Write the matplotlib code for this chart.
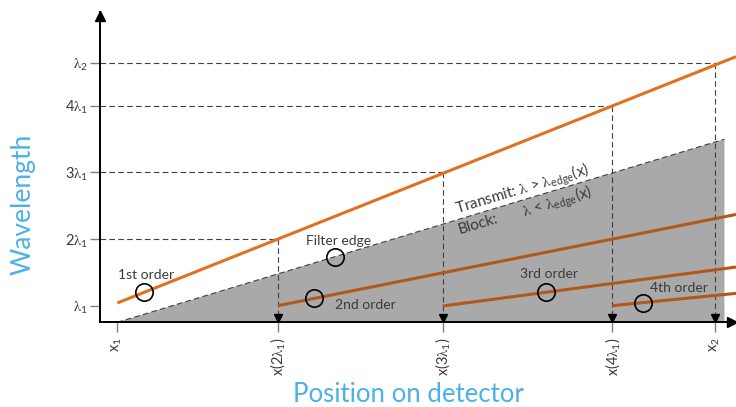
import matplotlib
matplotlib.use('Agg')
import matplotlib.pyplot as plt
import matplotlib.transforms as mtransforms
import numpy as np

plt.rcParams['font.family'] = ['Lato', 'DejaVu Sans']
plt.rcParams['mathtext.fontset'] = 'custom'
plt.rcParams['mathtext.rm'] = 'Lato'
plt.rcParams['mathtext.sf'] = 'Lato'
plt.rcParams['mathtext.it'] = 'STIXGeneral'
plt.rcParams['mathtext.fallback'] = 'stix'

LAM = r'$\mathit{\lambda}$'


def lam(sub):
    return r'$\mathit{\lambda}_{\mathrm{%s}}$' % sub


# Wavelength in units of lambda_1; detector position expressed as the first-order wavelength
y_ticks = [1.0, 2.0, 3.0, 4.0, 4.64]
y_labels = [lam('1'), '2' + lam('1'), '3' + lam('1'), '4' + lam('1'), lam('2')]
x_ticks = [1.04, 2.0, 2.985, 4.0, 4.615]
x_labels = [r'x$_{\mathrm{1}}$', 'x(2' + lam('1') + ')', 'x(3' + lam('1') + ')',
            'x(4' + lam('1') + ')', r'x$_{\mathrm{2}}$']

# Diffraction orders: wavelength at position x is x / n
orders = [1, 2, 3, 4]
order_start = [1.04, 2.0, 2.985, 4.0]
order_labels = ['1st order', '2nd order', '3rd order', '4th order']
order_circle_x = [1.20, 2.217, 3.605, 4.185]
order_label_xy = [(1.21, 1.46), (2.52, 1.01), (3.62, 1.47), (4.40, 1.27)]

# Order-sorting filter edge
edge_x = [1.04, 4.67]
edge_y = [0.75, 3.50]
edge_circle_x = 2.343
edge_label_xy = (2.36, 1.97)

# Corners of the dashed guides (wavelength level -> detector position)
guide_x = [2.0, 2.985, 4.0, 4.615]
guide_y = [2.0, 3.0, 4.0, 4.64]

x_min, x_max = 0.938, 4.739
y_min, y_max = 0.75, 5.41

c_first = '#E2711F'
c_higher = '#B3571B'
c_text = '#3a3a3a'
c_dash = '#404040'
c_label = '#4CB1E8'
dash = (0, (5, 3))

fig = plt.figure(figsize=(7.36, 4.07), dpi=100)
ax = fig.add_axes([100.3 / 736, 1 - 322.3 / 407, 1 - 100.3 / 736, (322.3 - 12) / 407])
ax.set_xlim(x_min, x_max)
ax.set_ylim(y_min, y_max)

for side in ('top', 'right'):
    ax.spines[side].set_visible(False)
for side in ('left', 'bottom'):
    ax.spines[side].set_linewidth(1.4)
    ax.spines[side].set_zorder(6)

# blocked region below the filter edge
ax.fill([edge_x[0], edge_x[1], edge_x[1]], [edge_y[0], edge_y[1], y_min],
        color='#A9A9A9', lw=0, zorder=1)
ax.plot(edge_x, edge_y, color=c_dash, lw=0.8, ls=dash, zorder=2)

# dashed guides with arrowheads onto the detector axis
tip = mtransforms.offset_copy(ax.transData, fig=fig, x=0, y=2.8, units='points')
for gx, gy in zip(guide_x, guide_y):
    ax.plot([x_min, gx], [gy, gy], color=c_dash, lw=0.8, ls=dash, zorder=2)
    ax.plot([gx, gx], [gy, y_min], color=c_dash, lw=0.8, ls=dash, zorder=2)
    ax.plot([gx], [y_min], marker='v', ms=5.6, color='black', transform=tip,
            clip_on=False, zorder=7)

# diffraction order lines
for n, x0 in zip(orders, order_start):
    xs = np.array([x0, x_max])
    ax.plot(xs, xs / n, color=c_first if n == 1 else c_higher, lw=2.2,
            solid_capstyle='butt', zorder=4)

# markers and labels
circ = dict(marker='o', ms=12.5, mfc='none', mec='black', mew=1.2, zorder=5, ls='none')
for n, cx, lab, (lx, ly) in zip(orders, order_circle_x, order_labels, order_label_xy):
    ax.plot([cx], [cx / n], **circ)
    ax.text(lx, ly, lab, ha='center', va='center', fontsize=10, color=c_text, zorder=6)

edge_slope = (edge_y[1] - edge_y[0]) / (edge_x[1] - edge_x[0])
ax.plot([edge_circle_x], [edge_y[0] + edge_slope * (edge_circle_x - edge_x[0])], **circ)
ax.text(*edge_label_xy, 'Filter edge', ha='center', va='center', fontsize=10,
        color=c_text, zorder=6)

angle = 16.7
ax.text(3.463, 2.74, 'Transmit: ' + LAM + ' > ' + lam('edge') + '(x)', rotation=angle,
        rotation_mode='anchor', ha='center', va='center', fontsize=11, color=c_text, zorder=6)
ax.text(3.199, 2.216, 'Block:', rotation=angle, rotation_mode='anchor',
        ha='center', va='center', fontsize=11, color=c_text, zorder=6)
ax.text(3.67, 2.55, LAM + ' < ' + lam('edge') + '(x)', rotation=angle,
        rotation_mode='anchor', ha='center', va='center', fontsize=11, color=c_text, zorder=6)

# axis arrowheads
ax.plot([x_min], [y_max], marker='^', ms=6.5, color='black', clip_on=False, zorder=7,
        transform=mtransforms.offset_copy(ax.transData, fig=fig, x=0, y=-3.2, units='points'))
ax.plot([x_max], [y_min], marker='>', ms=6.5, color='black', clip_on=False, zorder=7,
        transform=mtransforms.offset_copy(ax.transData, fig=fig, x=-3.2, y=0, units='points'))

ax.set_yticks(y_ticks)
ax.set_yticklabels(y_labels)
ax.set_xticks(x_ticks)
ax.set_xticklabels(x_labels, rotation=90)
ax.tick_params(axis='both', length=7, width=1, color='#808080', labelsize=10.5,
               labelcolor=c_text)
ax.tick_params(axis='x', pad=4)
ax.tick_params(axis='y', pad=2)

fig.text(23 / 736, 1 - 204 / 407, 'Wavelength', rotation=90, ha='center', va='center',
         fontsize=19, color=c_label)
fig.text(408 / 736, 1 - 394 / 407, 'Position on detector', ha='center', va='center',
         fontsize=18.5, color=c_label)

fig.savefig('out.png', dpi=100)
